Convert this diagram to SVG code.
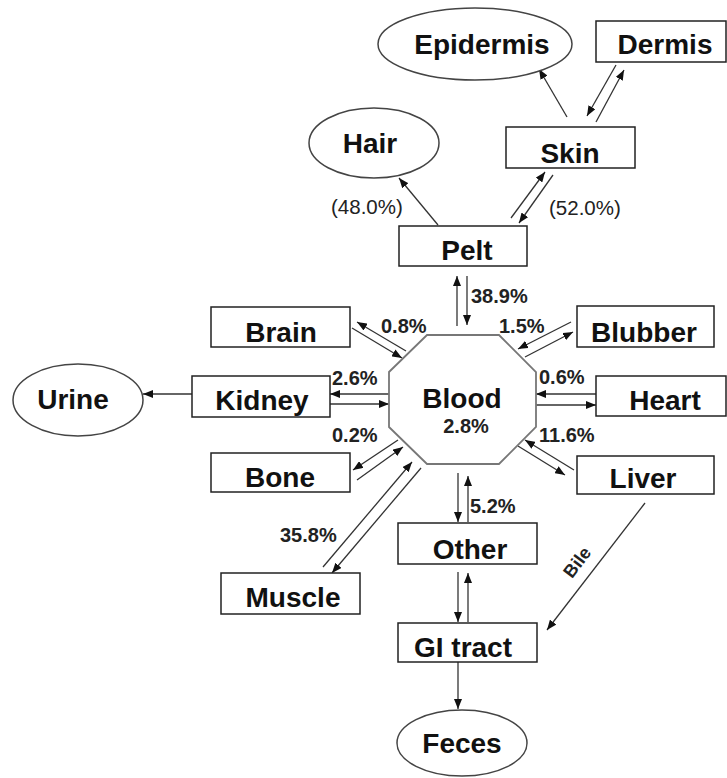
<svg xmlns="http://www.w3.org/2000/svg" width="727" height="778" viewBox="0 0 727 778">
<style>
.box{fill:#fff;stroke:#222;stroke-width:1.5}
.ell{fill:#fff;stroke:#444;stroke-width:1.5}
.oct{fill:#fff;stroke:#777;stroke-width:1.8}
.lbl{font-family:"Liberation Sans",Arial,sans-serif;font-weight:bold;font-size:28px;fill:#111;text-anchor:middle}
.pct{font-family:"Liberation Sans",Arial,sans-serif;font-weight:bold;font-size:20px;fill:#222}
.par{font-family:"Liberation Sans",Arial,sans-serif;font-size:20.5px;fill:#222}
.c{stroke:#333;stroke-width:1.3;fill:none;marker-end:url(#ah)}
</style>
<defs>
<marker id="ah" markerUnits="userSpaceOnUse" markerWidth="11" markerHeight="8" refX="10" refY="4" orient="auto">
<path d="M0,0 L10,4 L0,8 z" fill="#111"/>
</marker>
</defs>
<rect width="727" height="778" fill="#fff"/>

<g id="connectors">
<line class="c" x1="567" y1="117" x2="539" y2="69"/>
<line class="c" x1="616" y1="65" x2="587" y2="116"/>
<line class="c" x1="596" y1="122" x2="624" y2="70"/>
<line class="c" x1="438" y1="225" x2="399" y2="178"/>
<line class="c" x1="511" y1="218" x2="545" y2="172"/>
<line class="c" x1="553" y1="175" x2="519" y2="223"/>
<line class="c" x1="457" y1="326" x2="457" y2="276"/>
<line class="c" x1="467" y1="276" x2="467" y2="325"/>
<line class="c" x1="406" y1="351" x2="357" y2="322"/>
<line class="c" x1="352" y1="328" x2="402" y2="358"/>
<line class="c" x1="389" y1="394" x2="330" y2="394"/>
<line class="c" x1="330" y1="404" x2="389" y2="404"/>
<line class="c" x1="192" y1="394" x2="143" y2="394"/>
<line class="c" x1="398" y1="440" x2="353" y2="470"/>
<line class="c" x1="357" y1="480" x2="403" y2="447"/>
<line class="c" x1="323" y1="567" x2="412" y2="462"/>
<line class="c" x1="421" y1="468" x2="332" y2="573"/>
<line class="c" x1="571" y1="322" x2="518" y2="349"/>
<line class="c" x1="525" y1="357" x2="573" y2="332"/>
<line class="c" x1="596" y1="394" x2="536" y2="394"/>
<line class="c" x1="536" y1="405" x2="596" y2="405"/>
<line class="c" x1="574" y1="470" x2="525" y2="440"/>
<line class="c" x1="518" y1="446" x2="565" y2="475"/>
<line class="c" x1="458" y1="473" x2="458" y2="522"/>
<line class="c" x1="468" y1="522" x2="468" y2="476"/>
<line class="c" x1="458" y1="572" x2="458" y2="622"/>
<line class="c" x1="468" y1="622" x2="468" y2="573"/>
<line class="c" x1="458" y1="662" x2="458" y2="709"/>
<line class="c" x1="645" y1="503" x2="547" y2="630"/>
<text class="par" x="331" y="214">(48.0%)</text>
<text class="par" x="549" y="215">(52.0%)</text>
<text class="pct" x="471" y="303">38.9%</text>
<text class="pct" x="381" y="333">0.8%</text>
<text class="pct" x="499" y="333">1.5%</text>
<text class="pct" x="332" y="385">2.6%</text>
<text class="pct" x="539" y="384">0.6%</text>
<text class="pct" x="332" y="442">0.2%</text>
<text class="pct" x="539" y="442">11.6%</text>
<text class="pct" x="280" y="542">35.8%</text>
<text class="pct" x="470" y="513">5.2%</text>
<text font-family="Liberation Sans, Arial, sans-serif" font-weight="bold" font-size="18" fill="#222" text-anchor="middle" transform="translate(582,566) rotate(-53)">Bile</text>
</g>

<g id="epidermis"><ellipse class="ell" cx="475" cy="44" rx="97" ry="36"/><text class="lbl" x="482" y="54">Epidermis</text></g>
<g id="dermis"><rect class="box" x="596" y="21" width="130" height="41"/><text class="lbl" x="665" y="54">Dermis</text></g>
<g id="hair"><ellipse class="ell" cx="374" cy="143" rx="65" ry="35"/><text class="lbl" x="370" y="153">Hair</text></g>
<g id="skin"><rect class="box" x="506" y="127" width="129" height="41"/><text class="lbl" x="570" y="163">Skin</text></g>
<g id="pelt"><rect class="box" x="399" y="226" width="128" height="40"/><text class="lbl" x="467" y="260">Pelt</text></g>
<g id="brain"><rect class="box" x="211" y="307" width="139" height="40"/><text class="lbl" x="281" y="342">Brain</text></g>
<g id="blubber"><rect class="box" x="577" y="306" width="137" height="41"/><text class="lbl" x="644" y="342">Blubber</text></g>
<g id="urine"><ellipse class="ell" cx="78" cy="400" rx="65" ry="36"/><text class="lbl" x="73" y="409">Urine</text></g>
<g id="kidney"><rect class="box" x="192" y="376" width="138" height="41"/><text class="lbl" x="262" y="410">Kidney</text></g>
<g id="blood"><polygon class="oct" points="427,335 499,335 536,372 536,427 499,464 427,464 389,427 389,372"/><text class="lbl" x="462" y="408" font-size="29">Blood</text><text class="pct" x="466" y="433" text-anchor="middle">2.8%</text></g>
<g id="heart"><rect class="box" x="596" y="376" width="130" height="40"/><text class="lbl" x="665" y="410">Heart</text></g>
<g id="bone"><rect class="box" x="211" y="453" width="139" height="39"/><text class="lbl" x="280" y="487">Bone</text></g>
<g id="liver"><rect class="box" x="577" y="456" width="137" height="38"/><text class="lbl" x="643" y="488">Liver</text></g>
<g id="other"><rect class="box" x="398" y="523" width="139" height="41"/><text class="lbl" x="470" y="559">Other</text></g>
<g id="muscle"><rect class="box" x="221" y="573" width="139" height="41"/><text class="lbl" x="293" y="607">Muscle</text></g>
<g id="gitract"><rect class="box" x="398" y="623" width="139" height="39"/><text class="lbl" x="463" y="657">GI tract</text></g>
<g id="feces"><ellipse class="ell" cx="462" cy="743" rx="65" ry="33"/><text class="lbl" x="462" y="753">Feces</text></g>
</svg>
